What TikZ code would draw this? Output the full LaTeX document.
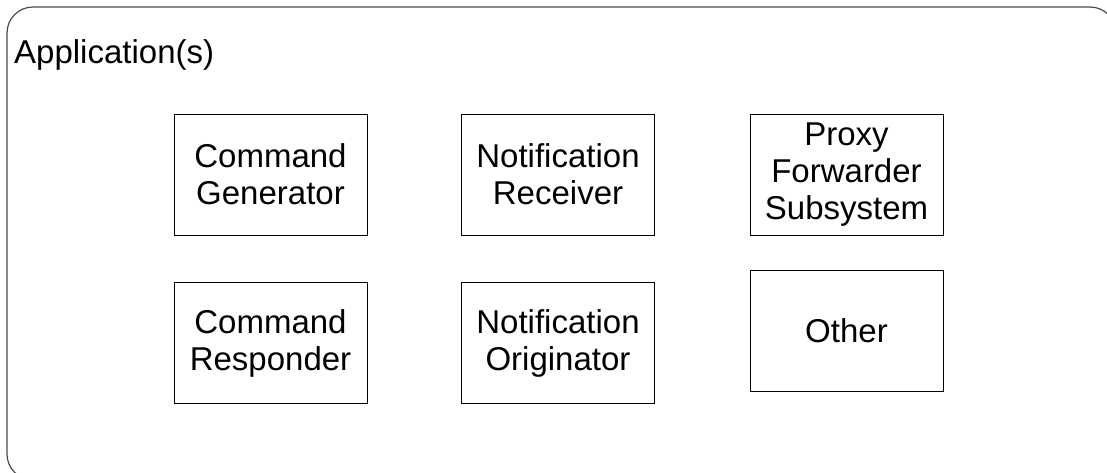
\documentclass[tikz,border=0pt]{standalone}
\usepackage{fontspec}
\setmainfont{Liberation Sans}
\usepackage{xcolor}
\usepackage{tikz}

\begin{document}
\begin{tikzpicture}[x=1pt, y=-1pt, font=\fontsize{33}{37}\selectfont,
    every node/.style={rectangle, draw=black, align=center, inner sep=0pt,
        minimum width=193pt, minimum height=121pt}]
    \useasboundingbox (0,0) rectangle (1107,472);
    \clip (0,0) rectangle (1107,472);
    \draw[black!70, line width=1.2pt, rounded corners=26pt] (7,7) rectangle (1116,480);
    \node[draw=none, minimum width=0pt, minimum height=0pt, anchor=base west] (app) at (14,63) {Application(s)};

    \node (cmdgen) at (270.5,174.5) {Command\\Generator};
    \node (notrec) at (558,174.5) {Notification\\Receiver};
    \node (proxy) at (846.5,174.5) {Proxy\\Forwarder\\Subsystem};
    \node (cmdresp) at (270.5,343) {Command\\Responder};
    \node (notorig) at (558,343) {Notification\\Originator};
    \node (other) at (846.5,331) {Other};
\end{tikzpicture}
\end{document}
